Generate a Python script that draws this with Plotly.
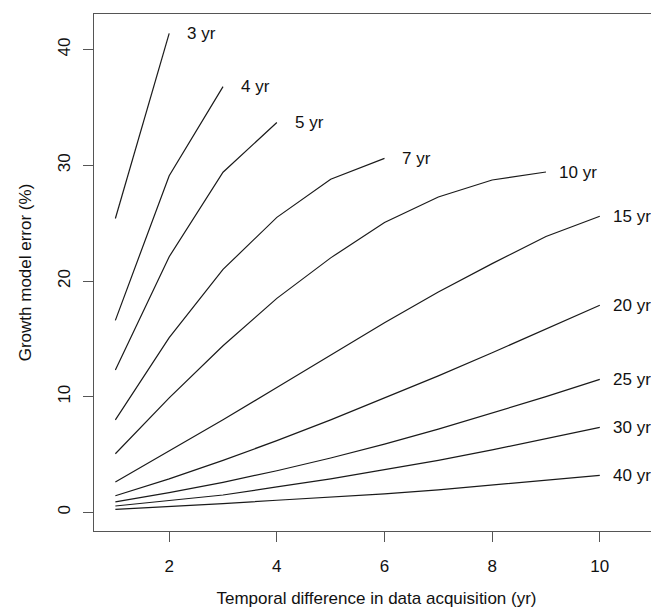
import plotly.graph_objects as go

# Temporal difference (yr) and growth model error (%) for each stand age series
series_names = ["3 yr", "4 yr", "5 yr", "7 yr", "10 yr", "15 yr", "20 yr", "25 yr", "30 yr", "40 yr"]
x_vals = [1, 2, 3, 4, 5, 6, 7, 8, 9, 10]
err_3 = [25.4, 41.4]
err_4 = [16.6, 29.1, 36.8]
err_5 = [12.3, 22.1, 29.4, 33.7]
err_7 = [8.0, 15.1, 21.0, 25.5, 28.8, 30.6]
err_10 = [5.07, 9.9, 14.4, 18.5, 22.0, 25.06, 27.26, 28.73, 29.42]
err_15 = [2.63, 5.3, 8.0, 10.8, 13.6, 16.4, 19.05, 21.5, 23.85, 25.6]
err_20 = [1.44, 2.9, 4.5, 6.2, 8.0, 9.9, 11.8, 13.8, 15.85, 17.9]
err_25 = [0.9, 1.7, 2.6, 3.6, 4.7, 5.9, 7.2, 8.6, 10.0, 11.5]
err_30 = [0.55, 1.0, 1.5, 2.2, 2.9, 3.7, 4.5, 5.4, 6.35, 7.35]
err_40 = [0.26, 0.5, 0.75, 1.05, 1.3, 1.6, 1.95, 2.35, 2.75, 3.2]
all_series = [err_3, err_4, err_5, err_7, err_10, err_15, err_20, err_25, err_30, err_40]

x_ticks = [2, 4, 6, 8, 10]
y_ticks = [0, 10, 20, 30, 40]

FONT = "Liberation Sans, Arial, Helvetica, sans-serif"
fig = go.Figure()
for name, ys in zip(series_names, all_series):
    xs = x_vals[:len(ys)]
    fig.add_trace(go.Scatter(x=xs, y=ys, mode="lines", name=name,
                             line=dict(color="#1a1a1a", width=1.2), showlegend=False,
                             hoverinfo="skip"))
    fig.add_annotation(x=xs[-1] + 0.6, y=ys[-1], text=name, showarrow=False,
                       xanchor="center", yanchor="middle",
                       font=dict(family=FONT, size=17, color="#111"))

# the page body adds an 8px offset; the figure is sized to fill the rest of the window
fig.update_layout(
    width=651, height=604,
    margin=dict(l=86, r=0, t=6, b=81, autoexpand=False),
    paper_bgcolor="white", plot_bgcolor="white",
    font=dict(family=FONT, size=17, color="#111"),
)
fig.update_xaxes(
    range=[0.603, 11.1], tickvals=x_ticks, ticktext=[str(v) for v in x_ticks],
    showgrid=False, zeroline=False, automargin=False,
    showline=True, linecolor="#555", linewidth=1.2, mirror=True,
    ticks="outside", ticklen=10, tickwidth=1, tickcolor="#555",
    ticklabelstandoff=9,
    title=dict(text="Temporal difference in data acquisition (yr)", standoff=17,
               font=dict(family=FONT, size=17)),
)
fig.update_yaxes(
    range=[-1.61, 43.08], tickvals=y_ticks, ticktext=[str(v) for v in y_ticks],
    showgrid=False, zeroline=False, automargin=False,
    showline=True, linecolor="#555", linewidth=1.2, mirror=False,
    ticks="outside", ticklen=10, tickwidth=1, tickcolor="#555",
    tickangle=-90, ticklabelstandoff=6,
    title=dict(text="Growth model error (%)", standoff=19,
               font=dict(family=FONT, size=17)),
)

fig.write_html("out.html")
